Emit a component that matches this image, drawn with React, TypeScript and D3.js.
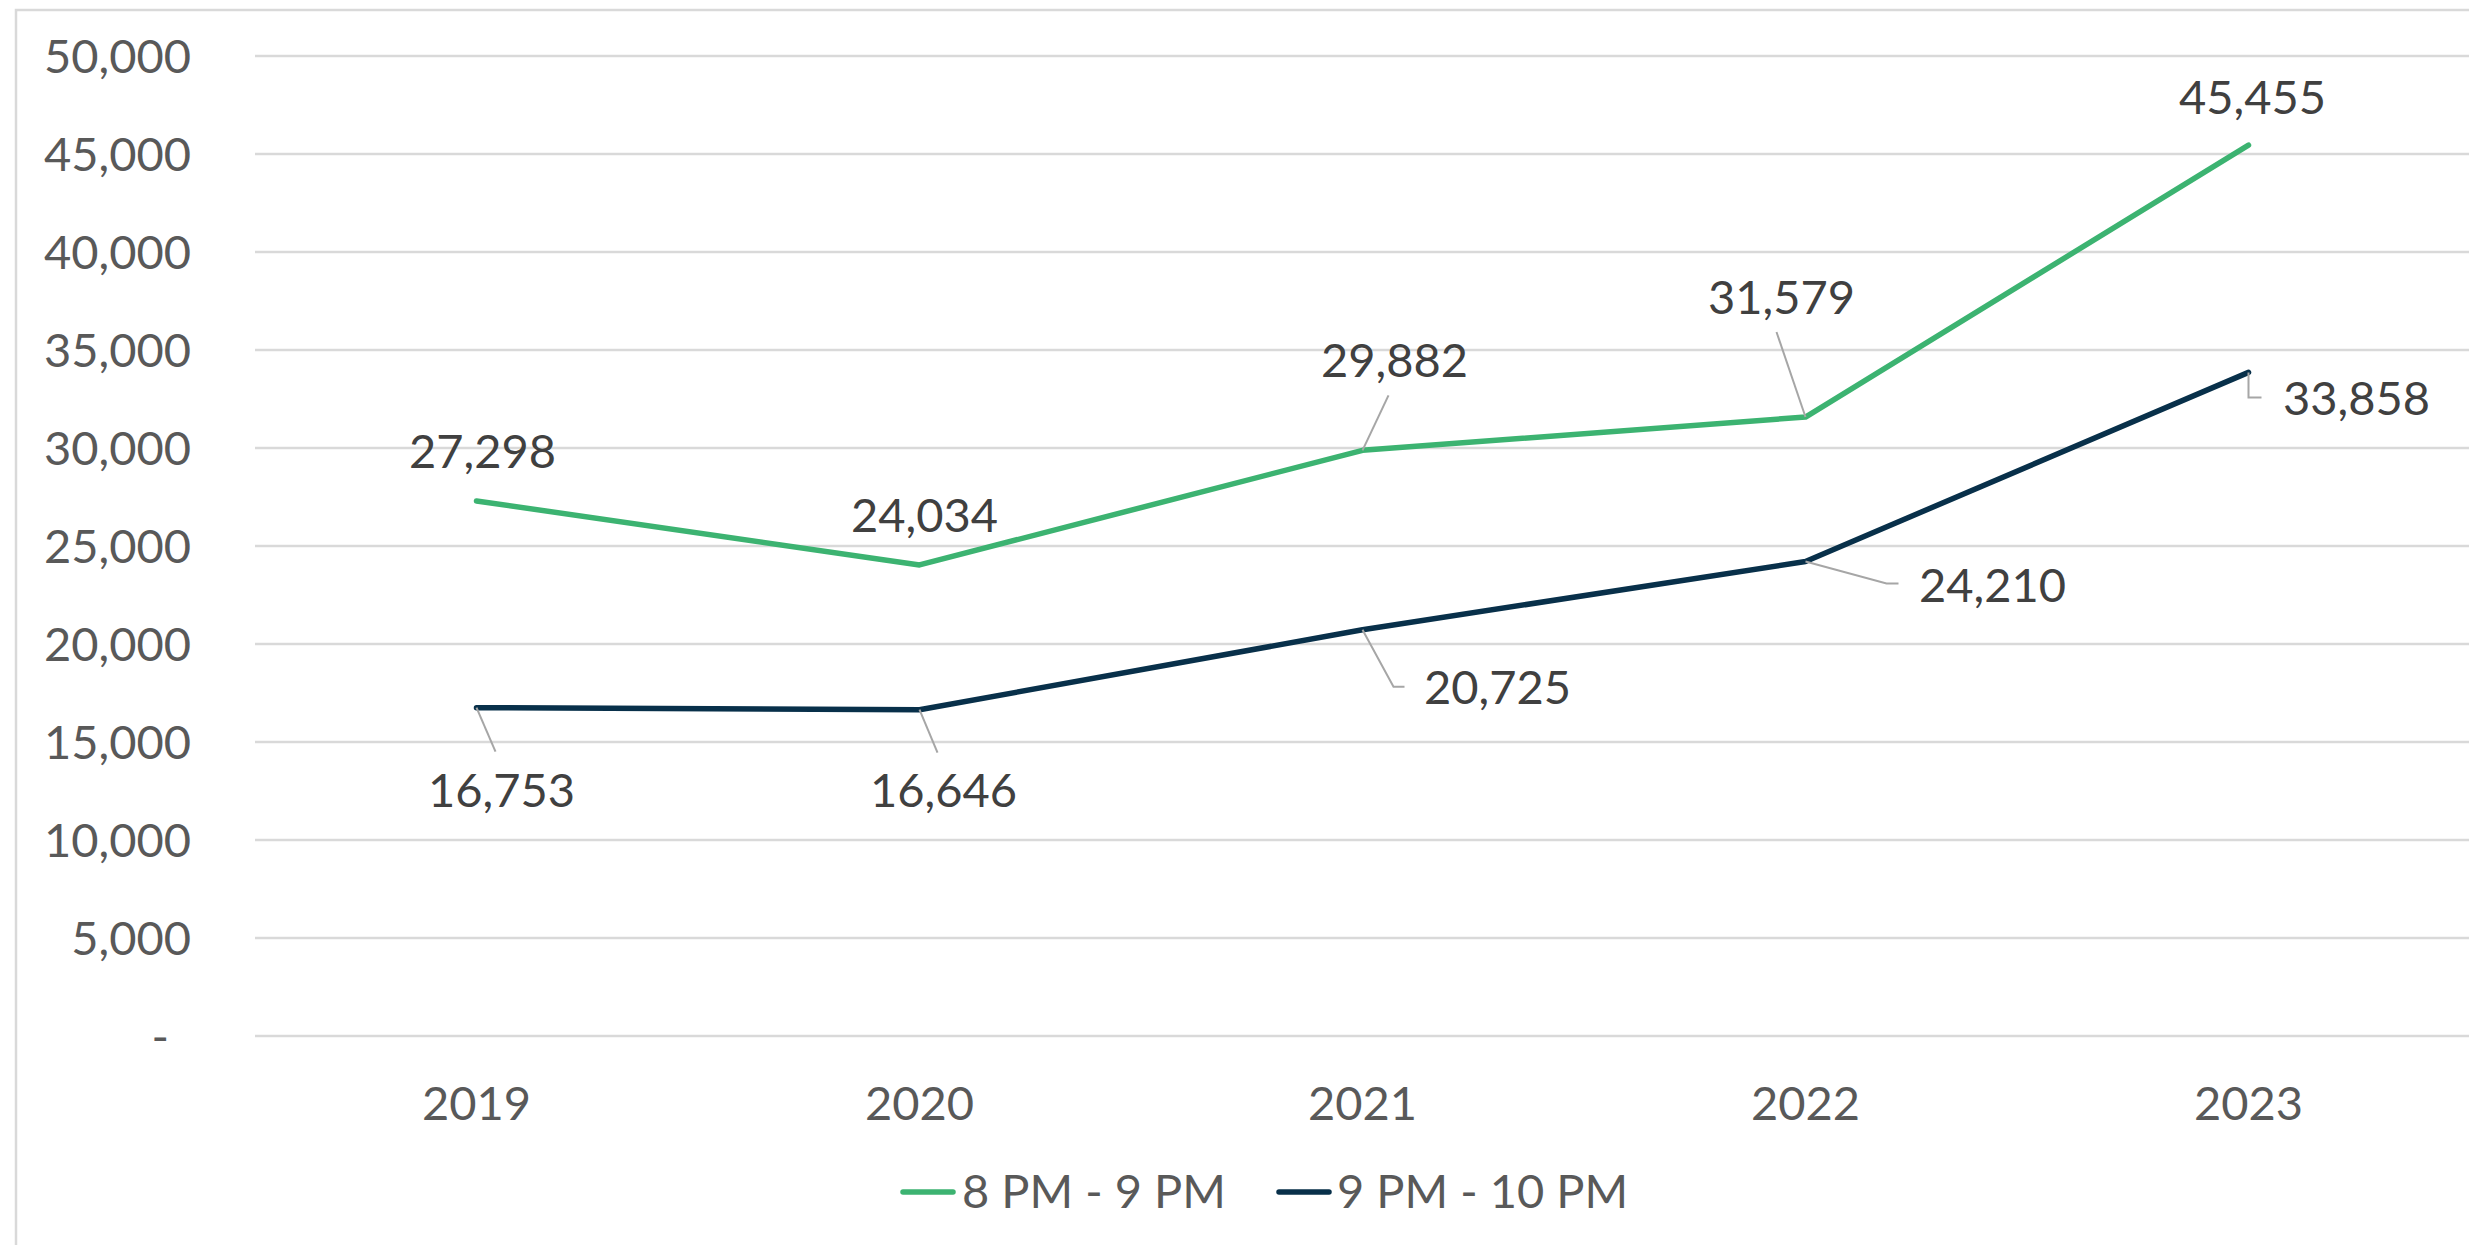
import * as d3 from 'd3';

// chart data
const years = ['2019', '2020', '2021', '2022', '2023'];
const eightToNine = [27298, 24034, 29882, 31579, 45455];
const nineToTen = [16753, 16646, 20725, 24210, 33858];
const yTicks = [0, 5000, 10000, 15000, 20000, 25000, 30000, 35000, 40000, 45000, 50000];
const seriesNames = ['8 PM - 9 PM', '9 PM - 10 PM'];
const seriesColors = ['#3cb371', '#08304a'];

// data label placement relative to each point (px), with optional leader polyline
type LabelPos = { dx: number; dy: number; leader?: [number, number][] };
const labels8: LabelPos[] = [
  { dx: 6, dy: -50 },
  { dx: 5, dy: -50 },
  { dx: 32, dy: -90, leader: [[0, 0], [26, -55]] },
  { dx: -24, dy: -120, leader: [[0, 0], [-29, -85]] },
  { dx: 4, dy: -48 },
];
const labels9: LabelPos[] = [
  { dx: 25, dy: 82, leader: [[0, 0], [19, 44]] },
  { dx: 24, dy: 80, leader: [[0, 0], [18, 43]] },
  { dx: 135, dy: 57, leader: [[0, 0], [31, 57], [42, 57]] },
  { dx: 187, dy: 24, leader: [[0, 0], [81, 22], [93, 22]] },
  { dx: 108, dy: 26, leader: [[0, 0], [0, 25], [13, 25]] },
];

const width = 2469;
const height = 1245;
const plot = { left: 255, right: 2470, top: 56, bottom: 1036 };
const font = "Lato, 'Open Sans', sans-serif";
const fontSize = 47;

export default function App() {
  const x = d3.scalePoint<string>().domain(years).range([plot.left, plot.right]).padding(0.5);
  const y = d3.scaleLinear().domain([0, 50000]).range([plot.bottom, plot.top]);
  const fmt = d3.format(',');

  const line = d3
    .line<number>()
    .x((_, i) => x(years[i]) as number)
    .y((d) => y(d));

  const series = [
    { name: seriesNames[0], values: eightToNine, color: seriesColors[0], labels: labels8 },
    { name: seriesNames[1], values: nineToTen, color: seriesColors[1], labels: labels9 },
  ];

  const legendItems = [
    { x: 900, textX: 962 },
    { x: 1276, textX: 1337 },
  ];

  return (
    <svg
      width={width}
      height={height}
      viewBox={`0 0 ${width} ${height}`}
      style={{ position: 'absolute', left: 0, top: 0, background: '#fff' }}
    >
      <rect x={0} y={0} width={width} height={height} fill="#fff" />
      <rect x={16} y={10} width={width + 20} height={height + 20} fill="none" stroke="#d9d9d9" strokeWidth={2.5} />

      {/* gridlines and y labels */}
      {yTicks.map((t) => (
        <g key={t}>
          <line x1={plot.left} x2={width} y1={y(t)} y2={y(t)} stroke="#d9d9d9" strokeWidth={2.5} />
          <text
            x={t === 0 ? 169 : 191}
            y={y(t)}
            dy="0.36em"
            textAnchor="end"
            fontFamily={font}
            fontSize={fontSize}
            fill="#595959"
          >
            {t === 0 ? '-' : fmt(t)}
          </text>
        </g>
      ))}

      {/* x labels */}
      {years.map((yr) => (
        <text
          key={yr}
          x={x(yr)}
          y={1103}
          dy="0.36em"
          textAnchor="middle"
          fontFamily={font}
          fontSize={fontSize}
          fill="#595959"
        >
          {yr}
        </text>
      ))}

      {/* lines */}
      {series.map((s) => (
        <path
          key={s.name}
          d={line(s.values) as string}
          fill="none"
          stroke={s.color}
          strokeWidth={5.5}
          strokeLinejoin="round"
          strokeLinecap="round"
        />
      ))}

      {/* data labels and leader lines */}
      {series.map((s) =>
        s.values.map((v, i) => {
          const px = x(years[i]) as number;
          const py = y(v);
          const lp = s.labels[i];
          return (
            <g key={`${s.name}-${i}`}>
              {lp.leader && (
                <polyline
                  points={lp.leader.map(([a, b]) => `${px + a},${py + b}`).join(' ')}
                  fill="none"
                  stroke="#a6a6a6"
                  strokeWidth={2}
                />
              )}
              <text
                x={px + lp.dx}
                y={py + lp.dy}
                dy="0.36em"
                textAnchor="middle"
                fontFamily={font}
                fontSize={fontSize}
                fill="#404040"
              >
                {fmt(v)}
              </text>
            </g>
          );
        })
      )}

      {/* legend */}
      {series.map((s, i) => (
        <g key={`legend-${s.name}`}>
          <line
            x1={legendItems[i].x + 3}
            x2={legendItems[i].x + 53}
            y1={1192}
            y2={1192}
            stroke={s.color}
            strokeWidth={5.5}
            strokeLinecap="round"
          />
          <text
            x={legendItems[i].textX}
            y={1191}
            dy="0.36em"
            fontFamily={font}
            fontSize={fontSize}
            fill="#595959"
          >
            {s.name}
          </text>
        </g>
      ))}
    </svg>
  );
}
